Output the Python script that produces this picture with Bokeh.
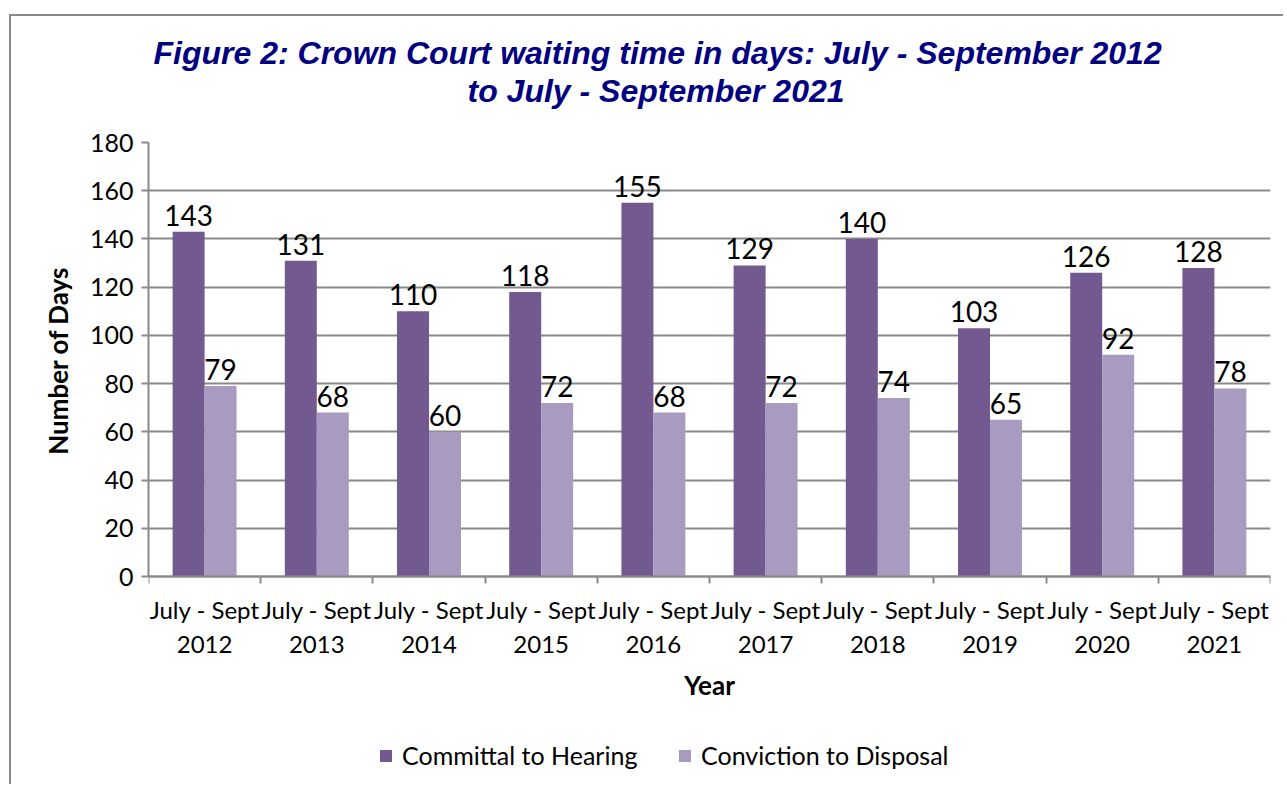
import numpy as np
from bokeh.plotting import figure
from bokeh.models import (ColumnDataSource, Range1d, FixedTicker, LabelSet, Label, Title,
                          Legend, LegendItem)
from bokeh.transform import dodge
from bokeh.core.properties import value
from bokeh.embed import file_html
from bokeh.resources import INLINE

# ---- data ----
periods = ["July - Sept\n2012", "July - Sept\n2013", "July - Sept\n2014", "July - Sept\n2015",
           "July - Sept\n2016", "July - Sept\n2017", "July - Sept\n2018", "July - Sept\n2019",
           "July - Sept\n2020", "July - Sept\n2021"]
committal = [143, 131, 110, 118, 155, 129, 140, 103, 126, 128]
conviction = [79, 68, 60, 72, 68, 72, 74, 65, 92, 78]
series_names = ["Committal to Hearing", "Conviction to Disposal"]
y_ticks = [0, 20, 40, 60, 80, 100, 120, 140, 160, 180]
title1 = "Figure 2: Crown Court waiting time in days: July - September 2012"
title2 = "to July - September 2021"
x_title = "Year"
y_title = "Number of Days"

DARK = "#725A91"
LIGHT = "#A99BBF"
GRID = "#898989"
FONT = "Lato"

n = len(periods)
centers = np.arange(n) + 0.5
src = ColumnDataSource(dict(
    x=centers,
    committal=committal,
    conviction=conviction,
    committal_txt=[str(v) for v in committal],
    conviction_txt=[str(v) for v in conviction],
))

# layout (pixels): value axis 0..180 spans 434 px; the frame continues below it
W, H = 1274, 770
TOP, BOTTOM = 126, 0
AXIS_PX = 434
frame_h = H - TOP - BOTTOM
y_max = max(y_ticks)
y_min = -y_max * (frame_h - AXIS_PX) / AXIS_PX

p = figure(width=W, height=H, output_backend="svg", toolbar_location=None,
           x_range=Range1d(0, n), y_range=Range1d(y_min, y_max),
           min_border_left=137, min_border_right=15, min_border_top=TOP,
           min_border_bottom=BOTTOM)
p.styles = {"border-left": "2px solid #898989", "border-top": "2px solid #898989"}
p.margin = (14, 0, 0, 9)
p.outline_line_color = None
p.background_fill_color = "white"
p.border_fill_color = "white"

bw = 0.285
r1 = p.vbar(x=dodge("x", -bw / 2, range=p.x_range), top="committal", width=bw, bottom=0,
            source=src, fill_color=DARK, line_color=None)
r2 = p.vbar(x=dodge("x", bw / 2, range=p.x_range), top="conviction", width=bw, bottom=0,
            source=src, fill_color=LIGHT, line_color=None)

for col, off in (("committal", -bw / 2), ("conviction", bw / 2)):
    p.add_layout(LabelSet(x=dodge("x", off, range=p.x_range), y=col, text=col + "_txt",
                          source=src, text_align="center", text_baseline="alphabetic",
                          y_offset=6, text_font=value(FONT), text_font_size="28px",
                          text_color="black"))

# y axis
p.yaxis.ticker = FixedTicker(ticks=y_ticks)
p.yaxis.bounds = (0, y_max)
p.yaxis.major_label_text_font = FONT
p.yaxis.major_label_text_font_size = "25px"
p.yaxis.major_label_text_color = "black"
p.yaxis.major_label_standoff = 8
p.yaxis.axis_line_color = GRID
p.yaxis.axis_line_width = 2
p.yaxis.major_tick_line_color = GRID
p.yaxis.major_tick_line_width = 2
p.yaxis.major_tick_out = 7
p.yaxis.major_tick_in = 0
p.yaxis.minor_tick_line_color = None

p.add_layout(Title(text=y_title, align="right", offset=124, standoff=26,
                   text_font=FONT, text_font_style="bold", text_font_size="26px",
                   text_color="black"), "left")

# x axis (drawn at value 0)
p.xaxis.fixed_location = 0
p.xaxis.ticker = FixedTicker(ticks=list(centers), minor_ticks=list(range(n + 1)))
p.xaxis.major_label_overrides = {float(c): lab for c, lab in zip(centers, periods)}
p.xaxis.major_label_text_font = FONT
p.xaxis.major_label_text_font_size = "24px"
p.xaxis.major_label_text_color = "black"
p.xaxis.major_label_standoff = 11
p.xaxis.axis_line_color = GRID
p.xaxis.axis_line_width = 2
p.xaxis.major_tick_line_color = None
p.xaxis.major_tick_out = 0
p.xaxis.major_tick_in = 0
p.xaxis.minor_tick_line_color = GRID
p.xaxis.minor_tick_line_width = 2
p.xaxis.minor_tick_out = 7
p.xaxis.minor_tick_in = 0

p.add_layout(Label(x=n / 2, y=102, x_units="data", y_units="screen", text=x_title,
                   text_align="center", text_baseline="alphabetic",
                   text_font=FONT, text_font_style="bold", text_font_size="26px",
                   text_color="black"))

p.xgrid.grid_line_color = None
p.ygrid.grid_line_color = GRID
p.ygrid.grid_line_width = 2

# title lines (first added sits closest to the plot)
p.add_layout(Title(text=" ", text_font_size="20px"), "above")
p.add_layout(Title(text=title2, align="left", offset=319, standoff=0,
                   text_font="Liberation Sans", text_font_style="bold italic",
                   text_font_size="32px", text_color="#000080"), "above")
p.add_layout(Title(text=title1, align="left", offset=5, standoff=0,
                   text_font="Liberation Sans", text_font_style="bold italic",
                   text_font_size="32px", text_color="#000080"), "above")

legend = Legend(items=[LegendItem(label=series_names[0], renderers=[r1]),
                       LegendItem(label=series_names[1], renderers=[r2])],
                orientation="horizontal", location=(230, 16),
                padding=0, margin=0, spacing=29, label_standoff=9, label_width=246,
                glyph_width=15, glyph_height=15, border_line_color=None,
                background_fill_alpha=0, label_text_font=FONT,
                label_text_font_size="25px", label_text_color="black")
p.add_layout(legend, "center")

open("out.html", "w").write(file_html(p, INLINE))
